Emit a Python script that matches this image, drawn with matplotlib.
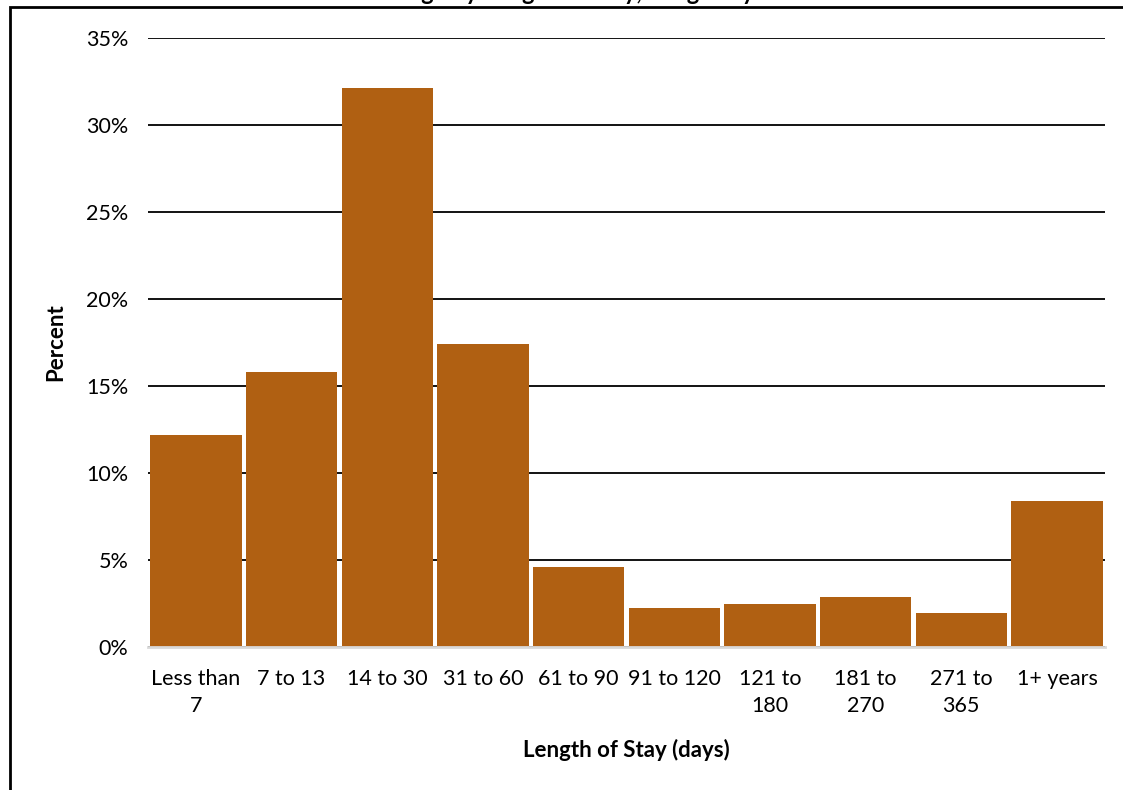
import matplotlib.pyplot as plt
from matplotlib.patches import Rectangle
from matplotlib.ticker import PercentFormatter

plt.rcParams['font.family'] = ['Lato', 'DejaVu Sans']

categories = ['Less than\n7', '7 to 13', '14 to 30', '31 to 60', '61 to 90',
              '91 to 120', '121 to\n180', '181 to\n270', '271 to\n365', '1+ years']
percent = [12.2, 15.8, 32.1, 17.4, 4.6, 2.24, 2.47, 2.87, 1.95, 8.39]
yticks = [0, 5, 10, 15, 20, 25, 30, 35]

fig = plt.figure(figsize=(11.23, 7.90), dpi=100)
ax = fig.add_axes([0.1318, 0.181, 0.852, 0.771])

x = range(len(categories))
ax.bar(x, percent, width=0.955, color='#B06012', zorder=3)

ax.set_ylim(0, 35)
ax.set_xlim(-0.5, len(categories) - 0.5)
ax.set_yticks(yticks)
ax.yaxis.set_major_formatter(PercentFormatter(decimals=0))
ax.set_xticks(list(x))
ax.set_xticklabels(categories, fontsize=15.5, linespacing=1.45, va='top')
ax.tick_params(axis='y', labelsize=15.5, length=0, pad=14)
ax.tick_params(axis='x', length=0, pad=16)
ax.grid(axis='y', color='black', linewidth=1.3, zorder=1)
for s in ['top', 'right', 'left']:
    ax.spines[s].set_visible(False)
ax.spines['bottom'].set_color('#d9d9d9')
ax.spines['bottom'].set_linewidth(2)
ax.spines['bottom'].set_zorder(4)

ax.set_ylabel('Percent', fontsize=16, fontweight='bold', labelpad=14)
ax.set_xlabel('Length of Stay (days)', fontsize=16, fontweight='bold', labelpad=16)

# chart title sits mostly above the frame
fig.text(0.53, 0.995, 'Percentage by Length of Stay, Long-Stay Residents',
         ha='center', va='bottom', fontsize=17, fontweight='bold')

# outer frame
fig.patches.append(Rectangle((10 / 1123, -0.01), 1.2, 1 - 7 / 790 + 0.01,
                             transform=fig.transFigure, fill=False,
                             edgecolor='black', linewidth=2))

fig.savefig('out.png', dpi=100)
